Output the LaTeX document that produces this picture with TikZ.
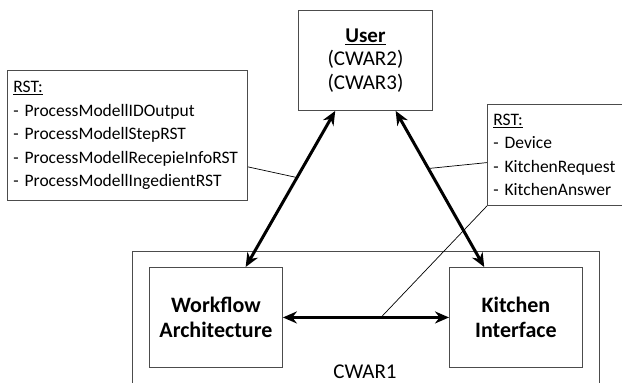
\documentclass[tikz,border=0pt]{standalone}
\usepackage{fontspec}
\setmainfont{Carlito}
\usetikzlibrary{arrows.meta,calc}
\begin{document}
\begin{tikzpicture}[x=1pt,y=-1pt,
  box/.style={draw=black!70,line width=0.9pt,rectangle,inner sep=0pt},
  rstbox/.style={box,anchor=north west,align=left,inner xsep=6pt,font=\fontsize{17.5}{23.5}\selectfont},
  comp/.style={box,minimum width=133pt,minimum height=100pt,align=center,font=\fontsize{22}{25.5}\selectfont\bfseries},
  flow/.style={line width=3pt,{Stealth[length=14pt,width=12pt]}-{Stealth[length=14pt,width=12pt]}},
  callout/.style={line width=0.7pt,black}]
\useasboundingbox (0,0) rectangle (622,383);

% outer component boundary, cut off at the bottom edge
\node[box,anchor=north west,minimum width=467pt,minimum height=160pt] (cwar) at (132,251) {};
\node[font=\fontsize{21}{24}\selectfont] (cwarlabel) at (365,372) {CWAR1};

% user actor
\node[box,anchor=north west,minimum width=134pt,minimum height=100pt,align=center,
      font=\fontsize{21}{23.5}\selectfont] (user) at (298,10)
  {\textbf{\underline{User}}\\(CWAR2)\\(CWAR3)};

% components
\node[comp,anchor=north west] (wf) at (149,267) {Workflow\\Architecture};
\node[comp,anchor=north west] (ki) at (449,267) {Kitchen\\Interface};

% data type notes
\node[rstbox,minimum width=240pt,minimum height=130pt,text width=228pt] (rstl) at (7,70)
  {\underline{RST:}\\- ProcessModellIDOutput\\- ProcessModellStepRST\\- ProcessModellRecepieInfoRST\\- ProcessModellIngedientRST};
\node[rstbox,minimum width=135pt,minimum height=101pt,text width=123pt] (rstr) at (487,104)
  {\underline{RST:}\\- Device\\- KitchenRequest\\- KitchenAnswer};

% end points of the flows on the node borders
\coordinate (wftop) at ($(wf.north west)!0.722!(wf.north east)$);
\coordinate (kitop) at ($(ki.north west)!0.263!(ki.north east)$);
\coordinate (userl) at ($(user.south west)!0.276!(user.south east)$);
\coordinate (userr) at ($(user.south west)!0.724!(user.south east)$);

% flows
\draw[flow] (wftop) -- (userl);
\draw[flow] (userr) -- (kitop);
\draw[flow] (wf.east) -- (ki.west);

% callouts from the notes to the flows
\draw[callout] ($(rstl.north east)!0.74!(rstl.south east)$) -- ($(wftop)!0.573!(userl)$);
\draw[callout] ($(rstr.north west)!0.575!(rstr.south west)$) -- ($(userr)!0.369!(kitop)$);
\draw[callout] (rstr.south west) -- ($(wf.east)!0.590!(ki.west)$);
\end{tikzpicture}
\end{document}
